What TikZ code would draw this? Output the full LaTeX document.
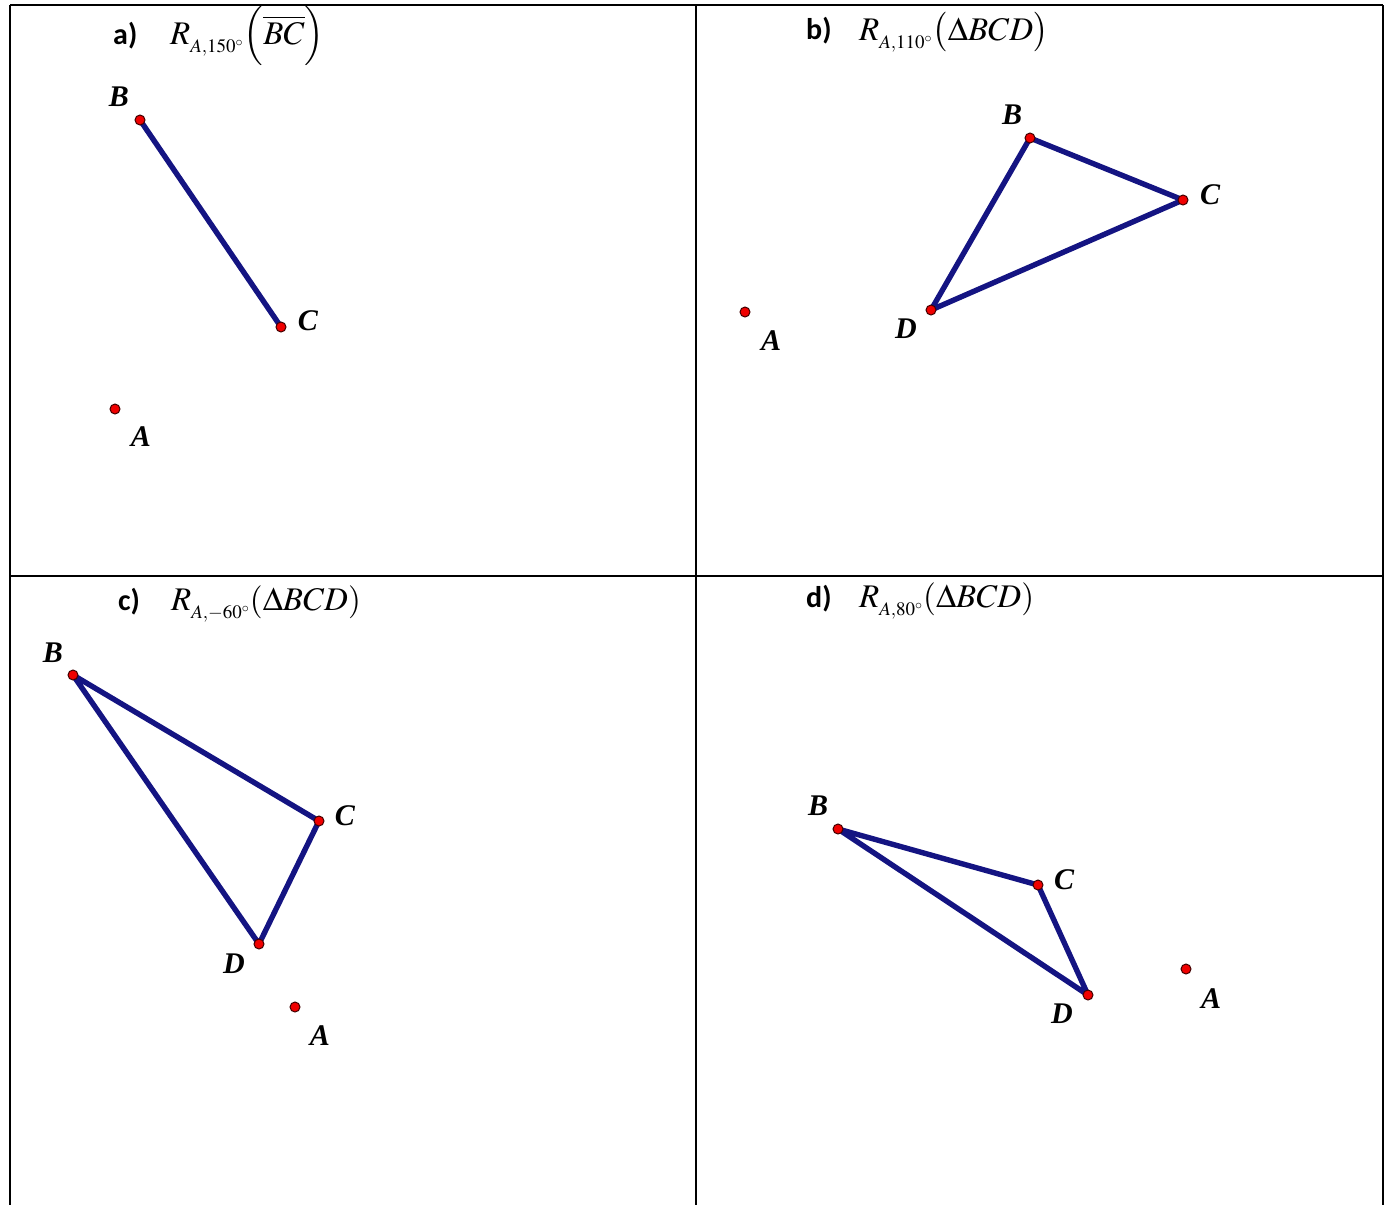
\documentclass[tikz,border=0pt]{standalone}
\usepackage{mathptmx}
\usepackage{fontspec}
\setmainfont{Liberation Serif}
\newfontfamily\titlefont{Carlito}
\DeclareMathSizes{33}{33}{19}{14}
\definecolor{segblue}{RGB}{20,20,130}
\definecolor{dotred}{RGB}{240,0,0}
\newcommand{\rotsub}[1]{_{\lower4pt\hbox{$\scriptstyle #1$}}}
\tikzset{
  seg/.style={draw=segblue, line width=5.4pt, line cap=round, line join=round},
  dot/.style={circle, draw=black!75!red, line width=1pt, fill=dotred, inner sep=0pt, minimum size=10pt},
  lbl/.style={font=\fontsize{30}{34}\selectfont\bfseries\itshape, inner sep=0pt},
  ttl/.style={font=\titlefont\fontsize{30}{34}\selectfont\bfseries, inner sep=0pt, anchor=base west},
  frm/.style={font=\fontsize{33}{38}\selectfont, inner sep=0pt, anchor=base west},
  border/.style={line width=2.2pt}
}
\begin{document}
\begin{tikzpicture}[x=1pt,y=-1pt]
\useasboundingbox (0,0) rectangle (1387,1205);
% table frame
\coordinate (tl) at (10,5);
\coordinate (tm) at (696,5);
\coordinate (tr) at (1383,5);
\coordinate (ml) at (10,576);
\coordinate (mr) at (1383,576);
\coordinate (bl) at (10,1205);
\coordinate (bm) at (696,1205);
\coordinate (br) at (1383,1205);
\draw[border] (tl) -- (tr);
\draw[border] (ml) -- (mr);
\draw[border] (tl) -- (bl);
\draw[border] (tm) -- (bm);
\draw[border] (tr) -- (br);

% titles
\node[ttl] (ta) at (113,44) {a)};
\node[frm] (fa) at (170,44) {$R\rotsub{A,150^\circ}\Bigl(\overline{BC}\Bigr)$};
\node[ttl] (tb) at (806,39) {b)};
\node[frm] (fb) at (859,40) {$R\rotsub{A,110^\circ}\bigl(\Delta BCD\bigr)$};
\node[ttl] (tc) at (118,610) {c)};
\node[frm] (fc) at (171,610) {$R\rotsub{A,-60^\circ}(\Delta BCD)$};
\node[ttl] (td) at (806,607) {d)};
\node[frm] (fd) at (859,607) {$R\rotsub{A,80^\circ}(\Delta BCD)$};

% a)
\coordinate (aB) at (140,120);
\coordinate (aC) at (281,327);
\coordinate (aA) at (115,409);
\draw[seg] (aB) -- (aC);
\node[dot] (daB) at (aB) {};
\node[dot] (daC) at (aC) {};
\node[dot] (daA) at (aA) {};
\node[lbl] (laB) at (119,97) {B};
\node[lbl] (laC) at (308,321) {C};
\node[lbl] (laA) at (141,437) {A};

% b)
\coordinate (bB) at (1030,138);
\coordinate (bC) at (1183,200);
\coordinate (bD) at (931,310);
\coordinate (bA) at (745,312);
\draw[seg] (bB) -- (bC) -- (bD) -- cycle;
\node[dot] (dbB) at (bB) {};
\node[dot] (dbC) at (bC) {};
\node[dot] (dbD) at (bD) {};
\node[dot] (dbA) at (bA) {};
\node[lbl] (lbB) at (1012,115) {B};
\node[lbl] (lbC) at (1210,195) {C};
\node[lbl] (lbD) at (906,329) {D};
\node[lbl] (lbA) at (771,341) {A};

% c)
\coordinate (cB) at (73,675);
\coordinate (cC) at (319,821);
\coordinate (cD) at (259,944);
\coordinate (cA) at (295,1007);
\draw[seg] (cB) -- (cC) -- (cD) -- cycle;
\node[dot] (dcB) at (cB) {};
\node[dot] (dcC) at (cC) {};
\node[dot] (dcD) at (cD) {};
\node[dot] (dcA) at (cA) {};
\node[lbl] (lcB) at (53,653) {B};
\node[lbl] (lcC) at (345,816) {C};
\node[lbl] (lcD) at (234,964) {D};
\node[lbl] (lcA) at (320,1036) {A};

% d)
\coordinate (dB) at (838,829);
\coordinate (dC) at (1038,885);
\coordinate (dD) at (1088,995);
\coordinate (dA) at (1186,969);
\draw[seg] (dB) -- (dC) -- (dD) -- cycle;
\node[dot] (ddB) at (dB) {};
\node[dot] (ddC) at (dC) {};
\node[dot] (ddD) at (dD) {};
\node[dot] (ddA) at (dA) {};
\node[lbl] (ldB) at (818,806) {B};
\node[lbl] (ldC) at (1064,880) {C};
\node[lbl] (ldD) at (1062,1014) {D};
\node[lbl] (ldA) at (1211,999) {A};
\end{tikzpicture}
\end{document}
